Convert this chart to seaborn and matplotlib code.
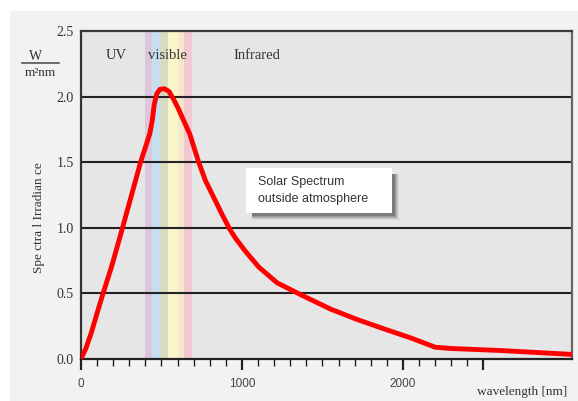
import matplotlib
matplotlib.use("Agg")
import matplotlib.pyplot as plt
from matplotlib.patches import Rectangle
from matplotlib.lines import Line2D
import seaborn as sns
import pandas as pd

# ---- data ----
wavelength = [0, 30, 64, 100, 137, 189, 258, 314, 370, 428, 443, 455, 470, 490, 517, 546,
              575, 604, 677, 731, 773, 825, 877, 924, 960, 1022, 1105, 1219, 1365, 1551,
              1718, 1905, 2050, 2200, 2300, 2600, 3050]
irradiance = [0.0, 0.08, 0.2, 0.35, 0.5, 0.70, 1.0, 1.25, 1.5, 1.72, 1.82, 1.94, 2.02, 2.055,
              2.06, 2.04, 1.98, 1.91, 1.71, 1.50, 1.36, 1.23, 1.10, 0.99, 0.92, 0.82, 0.70,
              0.58, 0.49, 0.38, 0.30, 0.22, 0.16, 0.09, 0.08, 0.065, 0.035]
band_edges = [400, 440, 490, 540, 600, 640, 690]
band_colors = ["#dcc6dc", "#c6deee", "#d6dcc2", "#f8f6c8", "#f6e6cc", "#f2c8d2"]
region_labels = ["UV", "visible", "Infrared"]
region_x = [220, 540, 1090]
y_ticks = [0.0, 0.5, 1.0, 1.5, 2.0, 2.5]
y_ticklabels = ["0.0", "0.5", "1.0", "1.5", "2.0", "2.5"]
x_major = [0, 1000, 2000, 2500]
x_major_labels = ["0", "1000", "2000", ""]
x_minor = [v for v in range(100, 2500, 100) if v not in (1000, 2000)]

df = pd.DataFrame({"wavelength": wavelength, "irradiance": irradiance})

W, H = 578, 401
fig = plt.figure(figsize=(W / 100, H / 100), dpi=100)
fig.patch.set_facecolor("white")

def fx(px):
    return px / W

def fy(py):
    return 1 - py / H

# grey panel
fig.add_artist(Rectangle((fx(10), 0), fx(W) - fx(10), fy(11), transform=fig.transFigure,
                         facecolor="#f2f2f2", edgecolor="none", zorder=-10))

ax = fig.add_axes([fx(81), fy(359), fx(572) - fx(81), fy(31) - fy(359)])
ax.set_facecolor("#e6e6e6")

# spectral bands
for i, c in enumerate(band_colors):
    ax.axvspan(band_edges[i], band_edges[i + 1], color=c, lw=0, zorder=0.5)

# grid lines
for yv in y_ticks[1:-1]:
    ax.axhline(yv, color="#222222", lw=1.5, zorder=1)

sns.lineplot(data=df, x="wavelength", y="irradiance", ax=ax, color="#ff0000",
             lw=3.5, zorder=3, solid_joinstyle="round", solid_capstyle="round")

ax.set_xlim(0, 3050)
ax.set_ylim(0, 2.5)
ax.set_xlabel("")
ax.set_ylabel("")

for side, col in [("left", "#333333"), ("bottom", "#222222"), ("top", "#3a3a3a"), ("right", "#666666")]:
    ax.spines[side].set_color(col)
    ax.spines[side].set_linewidth(1.6)

ax.set_yticks(y_ticks)
ax.set_yticklabels(y_ticklabels, family="Liberation Serif", fontsize=10, color="#333333")
ax.tick_params(axis="y", length=0, pad=5)

ax.set_xticks(x_major)
ax.set_xticklabels(x_major_labels, family="Liberation Sans", fontsize=8.5, color="#444444")
ax.set_xticks(x_minor, minor=True)
ax.tick_params(axis="x", which="major", length=8, width=1.6, color="#222222", pad=6)
ax.tick_params(axis="x", which="minor", length=5, width=1.0, color="#222222")

# region labels
for lab, xv in zip(region_labels, region_x):
    ax.text(xv, 2.31, lab, family="Liberation Serif", fontsize=10.5, color="#333333",
            ha="center", va="center", zorder=4)

# unit label
fig.text(fx(36), fy(56), "W", family="Liberation Serif", fontsize=10, color="#333333",
         ha="center", va="center")
fig.add_artist(Line2D([fx(22), fx(59)], [fy(63), fy(63)], transform=fig.transFigure,
                      color="#555555", lw=1.2))
fig.text(fx(40), fy(73), "m²nm", family="Liberation Serif", fontsize=9.5, color="#333333",
         ha="center", va="center")

# y label
fig.text(fx(39), fy(218), "Spe ctra l Irradian ce", family="Liberation Serif", fontsize=9.5,
         color="#333333", rotation=90, ha="center", va="center")

# x label
fig.text(fx(567), fy(392), "wavelength [nm]", family="Liberation Serif", fontsize=9.5,
         color="#333333", ha="right", va="center")

# annotation box with shadow
bx0, by0, bx1, by1 = 246, 168, 392, 213
for k, a in enumerate([0.06, 0.08, 0.10, 0.14, 0.18]):
    off = 7 - k
    fig.add_artist(Rectangle((fx(bx0 + 6), fy(by1 + off)),
                             fx(bx1 - bx0 + off - 6), fy(by0 + 6) - fy(by1 + off),
                             transform=fig.transFigure, facecolor="black", alpha=a,
                             edgecolor="none", zorder=5))
fig.add_artist(Rectangle((fx(bx0), fy(by1)), fx(bx1 - bx0), fy(by0) - fy(by1),
                         transform=fig.transFigure, facecolor="white",
                         edgecolor="none", zorder=6))
fig.text(fx(258), fy(182), "Solar Spectrum", family="Liberation Sans", fontsize=9,
         color="#333333", ha="left", va="center", zorder=7)
fig.text(fx(258), fy(199), "outside atmosphere", family="Liberation Sans", fontsize=9,
         color="#333333", ha="left", va="center", zorder=7)

fig.savefig("out.png", dpi=100, facecolor=fig.get_facecolor())
